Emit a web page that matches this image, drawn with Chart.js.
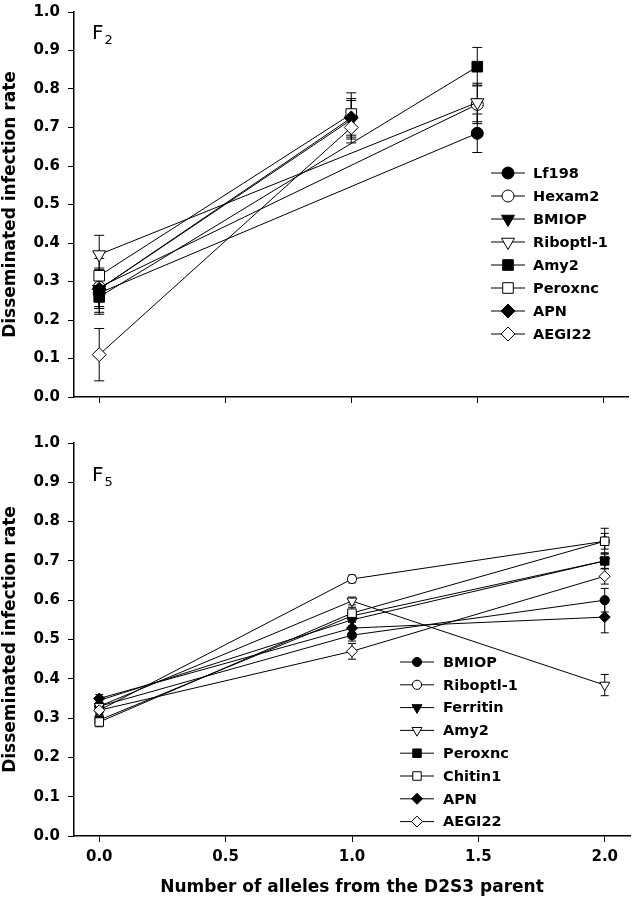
<!DOCTYPE html>
<html><head><meta charset="utf-8">
<script src="https://cdn.jsdelivr.net/npm/chart.js@4.4.1/dist/chart.umd.min.js"></script>
<style>
html,body{margin:0;padding:0;background:#fff;width:637px;height:900px;overflow:hidden;position:relative}
.wrap{position:absolute;left:0;width:637px}
.plab{position:absolute;font-family:'DejaVu Sans',sans-serif;font-size:20px;line-height:20px;color:#000}
.plab sub{font-size:13px;vertical-align:baseline;position:relative;top:5px;margin-left:1px}
</style></head><body>
<div class="wrap" style="top:-5px;height:425px"><canvas id="c1"></canvas></div>
<div class="wrap" style="top:420px;height:480px"><canvas id="c2"></canvas></div>
<div class="plab" style="left:92px;top:22px">F<sub>2</sub></div>
<div class="plab" style="left:92px;top:464px">F<sub>5</sub></div>
<script>
// ---------- data ----------
const xTicks = [0, 0.5, 1.0, 1.5, 2.0];
const yTitle = 'Disseminated infection rate';
const xTitle = 'Number of alleles from the D2S3 parent';

// F2 panel
const f2Labels = ['Lf198','Hexam2','BMIOP','Riboptl-1','Amy2','Peroxnc','APN','AEGI22'];
const f2X = [[0,1.5],[0,1.5],[0,1],[0,1.5],[0,1.5],[0,1],[0,1],[0,1]];
const f2Y = [[0.27,0.685],[0.285,0.76],[0.28,0.72],[0.37,0.765],[0.26,0.858],[0.315,0.735],[0.28,0.725],[0.11,0.70]];
const f2Err = [[0.05,0.05],[0.05,0.05],[0.05,0.05],[0.05,0.05],[0.045,0.05],[0.045,0.055],[0.05,0.05],[0.068,0.04]];

// F5 panel
const f5Labels = ['BMIOP','Riboptl-1','Ferritin','Amy2','Peroxnc','Chitin1','APN','AEGI22'];
const f5X = [0, 1, 2];
const f5Y = [[0.33,0.511,0.60],[0.32,0.654,0.75],[0.345,0.55,0.70],[0.33,0.598,0.384],[0.295,0.56,0.70],[0.29,0.567,0.75],[0.35,0.529,0.557],[0.32,0.47,0.661]];
const f5Err = [[0.01,0.015,0.03],[0.01,0.01,0.02],[0.01,0.015,0.02],[0.01,0.01,0.027],[0.01,0.015,0.02],[0.012,0.015,0.033],[0.01,0.015,0.04],[0.01,0.02,0.02]];

// ---------- styles ----------
const FONT = "'DejaVu Sans', sans-serif";
const markerStyles = ['circle','circle','triangle','triangle','rect','rect','rectRot','rectRot'];
const markerFill = ['#000','#fff','#000','#fff','#000','#fff','#000','#fff'];
const markerRot = [0,0,180,180,0,0,0,0];
const bigR = {circle:6, triangle:7.5, rect:7.5, rectRot:7};
const smallR = {circle:4.6, triangle:5.8, rect:6, rectRot:5.5};

function makeSets(labels, xs, ys, errs, rmap){
  return labels.map((lab,i)=>{
    const xv = Array.isArray(xs[0]) ? xs[i] : xs;
    return {
      label: lab,
      order: -i,
      data: xv.map((x,j)=>({x:x, y:ys[i][j]})),
      errors: errs[i],
      borderColor:'#000', borderWidth:1, tension:0, fill:false,
      pointStyle: markerStyles[i], pointRotation: markerRot[i],
      pointRadius: rmap[markerStyles[i]], pointBackgroundColor: markerFill[i],
      pointBorderColor:'#000', pointBorderWidth:1
    };
  });
}

function drawMarker(ctx, style, r, rot, x, y){
  if (Chart.helpers && Chart.helpers.drawPoint){
    Chart.helpers.drawPoint(ctx, {pointStyle:style, radius:r, rotation:rot, borderWidth:1}, x, y);
    return;
  }
  ctx.beginPath(); ctx.arc(x,y,r,0,Math.PI*2); ctx.fill(); ctx.stroke();
}

const errorBars = {
  id:'errorBars',
  beforeDatasetsDraw(chart, args, o){
    const ctx = chart.ctx, xs = chart.scales.x, ys = chart.scales.y;
    ctx.save(); ctx.strokeStyle='#000'; ctx.lineWidth=1;
    chart.data.datasets.forEach(ds=>{
      ds.data.forEach((p,i)=>{
        const e = ds.errors[i]; if(!e) return;
        const px = xs.getPixelForValue(p.x);
        const t = ys.getPixelForValue(p.y+e), b = ys.getPixelForValue(p.y-e);
        ctx.beginPath();
        ctx.moveTo(px,t); ctx.lineTo(px,b);
        ctx.moveTo(px-o.cap,t); ctx.lineTo(px+o.cap,t);
        ctx.moveTo(px-o.cap,b); ctx.lineTo(px+o.cap,b);
        ctx.stroke();
      });
    });
    ctx.restore();
  }
};

const lineLegend = {
  id:'lineLegend',
  afterDatasetsDraw(chart, args, o){
    const ctx = chart.ctx;
    ctx.save();
    ctx.font = o.font; ctx.textBaseline='middle'; ctx.textAlign='left';
    chart.data.datasets.forEach((ds,i)=>{
      const y = o.y + i*o.dy;
      ctx.strokeStyle='#000'; ctx.lineWidth=1;
      ctx.beginPath(); ctx.moveTo(o.x-o.half,y); ctx.lineTo(o.x+o.half,y); ctx.stroke();
      ctx.fillStyle = ds.pointBackgroundColor; ctx.strokeStyle='#000'; ctx.lineWidth=1;
      drawMarker(ctx, ds.pointStyle, ds.pointRadius, ds.pointRotation, o.x, y);
      ctx.fillStyle='#000';
      ctx.fillText(ds.label, o.textX, y+1);
    });
    ctx.restore();
  }
};

function makeChart(id, sets, opt){
  return new Chart(document.getElementById(id), {
    type:'line',
    data:{datasets: sets},
    plugins:[errorBars, lineLegend],
    options:{
      responsive:true, maintainAspectRatio:false, animation:false, events:[],
      layout:{padding:{top:opt.padTop, right:opt.padRight, left:0, bottom:0}},
      plugins:{
        legend:{display:false}, tooltip:{enabled:false},
        errorBars:{cap:opt.cap},
        lineLegend:opt.legend
      },
      scales:{
        x:{
          type:'linear', min:-0.1, max:2.1,
          afterBuildTicks(s){ s.ticks = xTicks.map(v=>({value:v})); },
          afterFit(s){ s.height = opt.xHeight; },
          ticks:{display:true, color:'#000', padding:6, autoSkip:false, maxRotation:0,
                 font:{family:FONT, size:15, weight:'bold'},
                 callback: opt.showX ? (v=>Number(v).toFixed(1)) : (()=>'')},
          grid:{drawOnChartArea:false, drawTicks:true, tickLength:6, color:'#000'},
          border:{display:true, color:'#000', width:1.5},
          title:{display:opt.showX, text:xTitle, color:'#000', padding:{top:0,bottom:2},
                 font:{family:FONT, size:17, weight:'bold'}}
        },
        y:{
          min:0, max:1,
          afterFit(s){ s.width = 74; },
          ticks:{stepSize:0.1, color:'#000', padding:8,
                 font:{family:FONT, size:15, weight:'bold'},
                 callback:v=>Number(v).toFixed(1)},
          grid:{drawOnChartArea:false, drawTicks:true, tickLength:6, color:'#000'},
          border:{display:true, color:'#000', width:1.5},
          title:{display:true, text:yTitle, color:'#000', padding:{top:0,bottom:0},
                 font:{family:FONT, size:17, weight:'bold'}}
        }
      }
    }
  });
}

makeChart('c1', makeSets(f2Labels, f2X, f2Y, f2Err, bigR), {
  padTop:12, padRight:5, xHeight:23, showX:false, cap:5,
  legend:{x:508, half:17, textX:533, y:178, dy:23, font:"bold 14.5px 'DejaVu Sans', sans-serif"}
});
makeChart('c2', makeSets(f5Labels, f5X, f5Y, f5Err, smallR), {
  padTop:23, padRight:2, xHeight:64, showX:true, cap:4,
  legend:{x:417, half:17, textX:443, y:242, dy:22.8, font:"bold 14.5px 'DejaVu Sans', sans-serif"}
});
</script>
</body></html>
